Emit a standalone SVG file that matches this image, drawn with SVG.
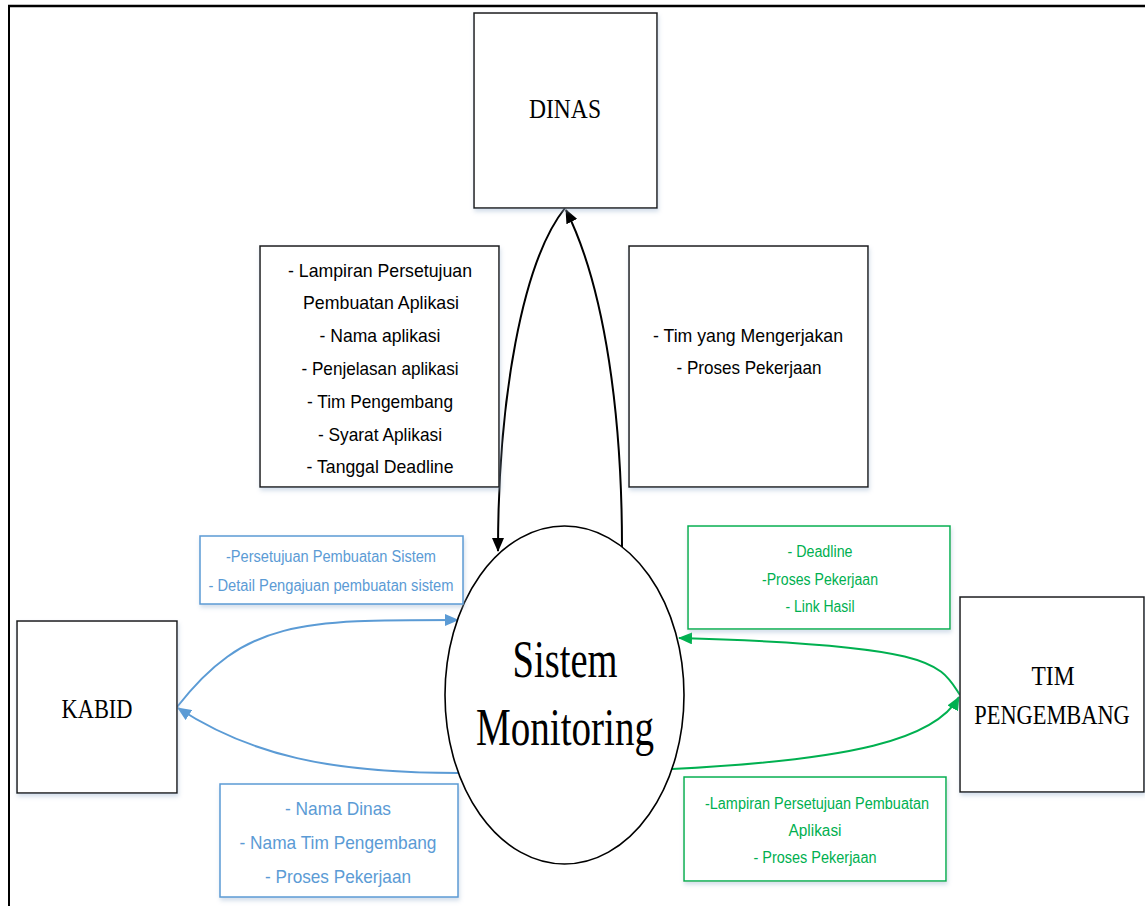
<svg xmlns="http://www.w3.org/2000/svg" width="1145" height="906" viewBox="0 0 1145 906">
<style>
.box{fill:#fff;stroke:#1a1a1a;stroke-width:1.5}
.bbox{fill:#fff;stroke:#5B9BD5;stroke-width:1.5}
.gbox{fill:#fff;stroke:#00B050;stroke-width:1.5}
.serif{font-family:"Liberation Serif","Times New Roman",serif;fill:#000;text-anchor:middle}
.lbl{font-family:"Liberation Sans",Arial,sans-serif;text-anchor:middle}
.k{fill:#000;font-size:19px}
.b{fill:#5B9BD5}
.g{fill:#00B050;font-size:16px}
.c{fill:none;stroke-width:2}
</style>
<defs>
<filter id="sh" x="-10%" y="-10%" width="130%" height="130%">
<feDropShadow dx="1" dy="3" stdDeviation="2" flood-color="#9fb6d0" flood-opacity="0.45"/>
</filter>
<marker id="ak" markerUnits="userSpaceOnUse" markerWidth="14" markerHeight="12" refX="13" refY="6" orient="auto"><path d="M0,0 L14,6 L0,12 z" fill="#000"/></marker>
<marker id="ab" markerUnits="userSpaceOnUse" markerWidth="14" markerHeight="12" refX="13" refY="6" orient="auto"><path d="M0,0 L14,6 L0,12 z" fill="#5B9BD5"/></marker>
<marker id="ag" markerUnits="userSpaceOnUse" markerWidth="14" markerHeight="12" refX="13" refY="6" orient="auto"><path d="M0,0 L14,6 L0,12 z" fill="#00B050"/></marker>
</defs>
<rect width="1145" height="906" fill="#fff"/>
<g id="frame">
<line x1="8" y1="6" x2="1145" y2="6" stroke="#000" stroke-width="2.5"/>
<line x1="9" y1="5" x2="9" y2="906" stroke="#000" stroke-width="2"/>
</g>
<g id="connectors">
<path class="c" d="M565,208 C522,262 498,400 498,551" stroke="#000" stroke-width="1.6" marker-end="url(#ak)"/>
<path class="c" d="M622,547 C622,420 606,290 566,210" stroke="#000" stroke-width="1.6" marker-end="url(#ak)"/>
<path class="c" d="M177,707 C245,620 300,620 458,620" stroke="#5B9BD5" marker-end="url(#ab)"/>
<path class="c" d="M458,773 C330,773 250,755 178,708" stroke="#5B9BD5" marker-end="url(#ab)"/>
<path class="c" d="M960,695 C940,665 940,645 679,638" stroke="#00B050" marker-end="url(#ag)"/>
<path class="c" d="M672,769 C850,760 935,740 959,697" stroke="#00B050" marker-end="url(#ag)"/>
</g>
<g id="dinas">
<rect class="box" x="474" y="13" width="183" height="195" filter="url(#sh)"/>
<text class="serif" x="565" y="118" font-size="27" textLength="72" lengthAdjust="spacingAndGlyphs">DINAS</text>
</g>
<g id="label-dinas-in">
<rect class="box" x="260" y="246" width="239" height="241" filter="url(#sh)"/>
<text class="lbl k" x="380" y="277" textLength="184" lengthAdjust="spacingAndGlyphs">- Lampiran Persetujuan</text>
<text class="lbl k" x="381" y="309" textLength="156" lengthAdjust="spacingAndGlyphs">Pembuatan Aplikasi</text>
<text class="lbl k" x="380" y="342" textLength="121" lengthAdjust="spacingAndGlyphs">- Nama aplikasi</text>
<text class="lbl k" x="380" y="375" textLength="157" lengthAdjust="spacingAndGlyphs">- Penjelasan aplikasi</text>
<text class="lbl k" x="380" y="408" textLength="146" lengthAdjust="spacingAndGlyphs">- Tim Pengembang</text>
<text class="lbl k" x="380" y="441" textLength="124" lengthAdjust="spacingAndGlyphs">- Syarat Aplikasi</text>
<text class="lbl k" x="380" y="473" textLength="147" lengthAdjust="spacingAndGlyphs">- Tanggal Deadline</text>
</g>
<g id="label-dinas-out">
<rect class="box" x="629" y="246" width="239" height="241" filter="url(#sh)"/>
<text class="lbl k" x="748" y="342" textLength="190" lengthAdjust="spacingAndGlyphs">- Tim yang Mengerjakan</text>
<text class="lbl k" x="749" y="374" textLength="145" lengthAdjust="spacingAndGlyphs">- Proses Pekerjaan</text>
</g>
<g id="sistem">
<ellipse cx="564.5" cy="695" rx="119.5" ry="169" fill="#fff" stroke="#000" stroke-width="1.6"/>
<text class="serif" x="565" y="677" font-size="52" textLength="105" lengthAdjust="spacingAndGlyphs">Sistem</text>
<text class="serif" x="565" y="745" font-size="52" textLength="178" lengthAdjust="spacingAndGlyphs">Monitoring</text>
</g>
<g id="kabid">
<rect class="box" x="17" y="621" width="160" height="172" filter="url(#sh)"/>
<text class="serif" x="97" y="718" font-size="27" textLength="71" lengthAdjust="spacingAndGlyphs">KABID</text>
</g>
<g id="tim-pengembang">
<rect class="box" x="960" y="597" width="184" height="195" filter="url(#sh)"/>
<text class="serif" x="1053" y="685" font-size="28" textLength="43" lengthAdjust="spacingAndGlyphs">TIM</text>
<text class="serif" transform="translate(1052,724) scale(0.8,1)" x="0" y="0" font-size="28">PENGEMBANG</text>
</g>
<g id="label-kabid-in">
<rect class="bbox" x="200" y="536" width="263" height="68" filter="url(#sh)"/>
<text class="lbl b" x="331" y="562" font-size="16" textLength="210" lengthAdjust="spacingAndGlyphs">-Persetujuan Pembuatan Sistem</text>
<text class="lbl b" x="331" y="591" font-size="16" textLength="245" lengthAdjust="spacingAndGlyphs">- Detail Pengajuan pembuatan sistem</text>
</g>
<g id="label-kabid-out">
<rect class="bbox" x="220" y="784" width="238" height="113" filter="url(#sh)"/>
<text class="lbl b" x="338" y="815" font-size="19" textLength="106" lengthAdjust="spacingAndGlyphs">- Nama Dinas</text>
<text class="lbl b" x="338" y="849" font-size="19" textLength="197" lengthAdjust="spacingAndGlyphs">- Nama Tim Pengembang</text>
<text class="lbl b" x="338" y="883" font-size="19" textLength="146" lengthAdjust="spacingAndGlyphs">- Proses Pekerjaan</text>
</g>
<g id="label-tim-in">
<rect class="gbox" x="688" y="526" width="262" height="103" filter="url(#sh)"/>
<text class="lbl g" x="820" y="557" textLength="65" lengthAdjust="spacingAndGlyphs">- Deadline</text>
<text class="lbl g" x="820" y="585" textLength="116" lengthAdjust="spacingAndGlyphs">-Proses Pekerjaan</text>
<text class="lbl g" x="820" y="612" textLength="69" lengthAdjust="spacingAndGlyphs">- Link Hasil</text>
</g>
<g id="label-tim-out">
<rect class="gbox" x="684" y="777" width="262" height="104" filter="url(#sh)"/>
<text class="lbl g" x="817" y="809" textLength="224" lengthAdjust="spacingAndGlyphs">-Lampiran Persetujuan Pembuatan</text>
<text class="lbl g" x="815" y="836" textLength="53" lengthAdjust="spacingAndGlyphs">Aplikasi</text>
<text class="lbl g" x="815" y="863" textLength="123" lengthAdjust="spacingAndGlyphs">- Proses Pekerjaan</text>
</g>
</svg>
